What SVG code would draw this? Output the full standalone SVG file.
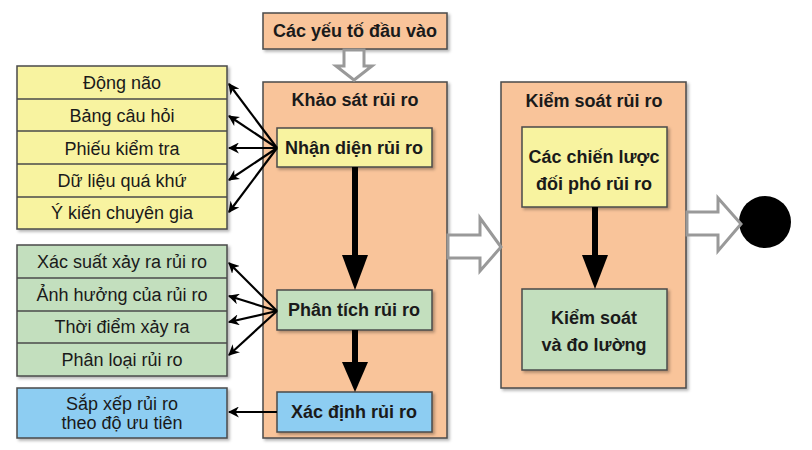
<svg xmlns="http://www.w3.org/2000/svg" width="812" height="450" viewBox="0 0 812 450">
<defs>
<filter id="sh" x="-10%" y="-10%" width="130%" height="130%">
<feDropShadow dx="2" dy="2" stdDeviation="1.5" flood-color="#000" flood-opacity="0.3"/>
</filter>
<marker id="ah" viewBox="0 0 10 10" refX="9" refY="5" markerWidth="11" markerHeight="11" orient="auto" markerUnits="userSpaceOnUse">
<path d="M0,0 L10,5 L0,10 L3,5 Z" fill="#000"/>
</marker>
</defs>
<style>
.box{stroke:#4a4a4a;stroke-width:1.5;filter:url(#sh)}
.or{fill:#F9C49A}
.ye{fill:#F8F3A0}
.gr{fill:#C3DFBE}
.bl{fill:#8DCDF2}
.row{stroke:#4a4a4a;stroke-width:1.5}
text{font-family:"Liberation Sans",Arial,sans-serif;font-size:18px;fill:#1a1a1a;text-anchor:middle;dominant-baseline:central}
.b{font-weight:bold}
.thin{stroke:#000;stroke-width:2.2;fill:none;marker-end:url(#ah)}
.hollow{fill:#fff;stroke:#999;stroke-width:3;stroke-linejoin:miter}
.thick{fill:#000}
</style>

<g id="inputs">
<rect class="box or" x="263" y="13" width="184" height="36"/>
<text class="b" x="355" y="31">Các yếu tố đầu vào</text>
</g>

<g id="khao-sat">
<rect class="box or" x="263" y="82" width="184" height="356"/>
<text class="b" x="355" y="100">Khảo sát rủi ro</text>
</g>

<g id="nhan-dien">
<rect class="box ye" x="277" y="128" width="155" height="39"/>
<text class="b" x="354" y="148">Nhận diện rủi ro</text>
</g>

<g id="phan-tich">
<rect class="box gr" x="277" y="290" width="155" height="40"/>
<text class="b" x="354" y="310">Phân tích rủi ro</text>
</g>

<g id="xac-dinh">
<rect class="box bl" x="277" y="392" width="155" height="40"/>
<text class="b" x="354" y="412">Xác định rủi ro</text>
</g>

<g id="yellow-list">
<rect class="box ye" x="17" y="66" width="210" height="163"/>
<line class="row" x1="17" y1="99" x2="227" y2="99"/>
<line class="row" x1="17" y1="131" x2="227" y2="131"/>
<line class="row" x1="17" y1="164" x2="227" y2="164"/>
<line class="row" x1="17" y1="197" x2="227" y2="197"/>
<text x="122" y="83">Động não</text>
<text x="122" y="116">Bảng câu hỏi</text>
<text x="122" y="149">Phiếu kiểm tra</text>
<text x="122" y="181">Dữ liệu quá khứ</text>
<text x="122" y="213">Ý kiến chuyên gia</text>
</g>

<g id="green-list">
<rect class="box gr" x="17" y="245" width="210" height="131"/>
<line class="row" x1="17" y1="278" x2="227" y2="278"/>
<line class="row" x1="17" y1="311" x2="227" y2="311"/>
<line class="row" x1="17" y1="343" x2="227" y2="343"/>
<text x="122" y="262">Xác suất xảy ra rủi ro</text>
<text x="122" y="295">Ảnh hưởng của rủi ro</text>
<text x="122" y="327">Thời điểm xảy ra</text>
<text x="122" y="360">Phân loại rủi ro</text>
</g>

<g id="sap-xep">
<rect class="box bl" x="17" y="388" width="210" height="50"/>
<text x="122" y="404">Sắp xếp rủi ro</text>
<text x="122" y="423">theo độ ưu tiên</text>
</g>

<g id="kiem-soat">
<rect class="box or" x="501" y="82" width="185" height="306"/>
<text class="b" x="594" y="101">Kiểm soát rủi ro</text>
</g>

<g id="chien-luoc">
<rect class="box ye" x="522" y="127" width="145" height="80"/>
<text class="b" x="594" y="157">Các chiến lược</text>
<text class="b" x="594" y="184">đối phó rủi ro</text>
</g>

<g id="do-luong">
<rect class="box gr" x="522" y="289" width="145" height="81"/>
<text class="b" x="594" y="318">Kiểm soát</text>
<text class="b" x="594" y="345">và đo lường</text>
</g>

<g id="end">
<circle cx="765" cy="222" r="26" fill="#000"/>
</g>

<g id="connectors">
<path class="hollow" d="M344,50 L364,50 L364,66 L372,66 L354,80 L336,66 L344,66 Z"/>
<path class="hollow" d="M448,235 L480,235 L480,218 L501,247 L480,271 L480,258 L448,258 Z"/>
<path class="hollow" d="M687,212 L718,212 L718,198 L741,224 L718,251 L718,235 L687,235 Z"/>

<rect class="thick" x="352" y="167" width="6" height="90"/>
<path class="thick" d="M342,255 L368,255 L355,290 Z"/>
<rect class="thick" x="352" y="330" width="6" height="35"/>
<path class="thick" d="M342,362 L368,362 L355,392 Z"/>
<rect class="thick" x="592" y="207" width="6" height="50"/>
<path class="thick" d="M582,255 L608,255 L595,289 Z"/>

<line class="thin" x1="277" y1="148" x2="229" y2="84"/>
<line class="thin" x1="277" y1="148" x2="229" y2="116"/>
<line class="thin" x1="277" y1="148" x2="229" y2="148"/>
<line class="thin" x1="277" y1="148" x2="229" y2="180"/>
<line class="thin" x1="277" y1="148" x2="229" y2="212"/>

<line class="thin" x1="277" y1="311" x2="229" y2="263"/>
<line class="thin" x1="277" y1="311" x2="229" y2="296"/>
<line class="thin" x1="277" y1="311" x2="229" y2="322"/>
<line class="thin" x1="277" y1="311" x2="229" y2="355"/>

<line class="thin" x1="277" y1="412" x2="229" y2="412"/>
</g>
</svg>
